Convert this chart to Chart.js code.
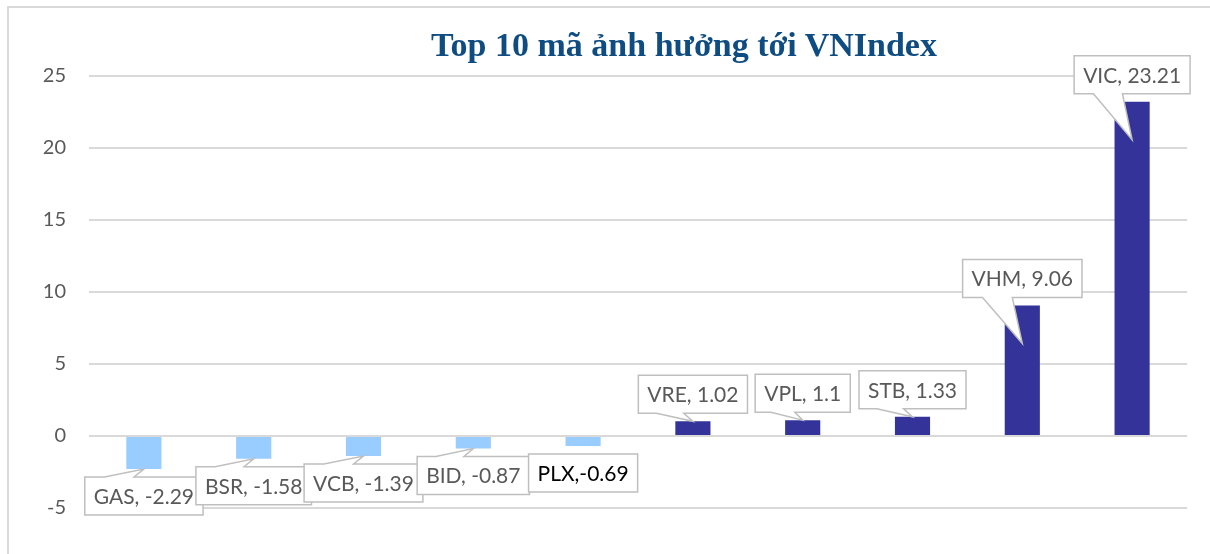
<!DOCTYPE html>
<html lang="vi">
<head>
<meta charset="utf-8">
<title>Top 10 mã ảnh hưởng tới VNIndex</title>
<script src="https://cdn.jsdelivr.net/npm/chart.js@4.4.1/dist/chart.umd.min.js"></script>
<style>
    html, body { margin: 0; padding: 0; background: #fff; overflow: hidden; }
    .frame {
        position: absolute; left: 7px; top: 6px;
        width: 1354px; height: 600px;
        border: 2px solid #d9d9d9; box-sizing: border-box;
    }
    .frame canvas { display: block; }
    .title {
        position: absolute; left: 0; right: 0; top: 17px;
        margin: 0; text-align: center;
        font: bold 34px/40px "Liberation Serif", serif;
        color: #0F4C81;
    }
</style>
</head>
<body>
<div class="frame">
    <h1 class="title">Top 10 mã ảnh hưởng tới VNIndex</h1>
    <canvas id="chart" width="1350" height="596"></canvas>
</div>
<script>
// Dữ liệu
const categories = ['GAS', 'BSR', 'VCB', 'BID', 'PLX', 'VRE', 'VPL', 'STB', 'VHM', 'VIC'];
const values = [-2.29, -1.58, -1.39, -0.87, -0.69, 1.02, 1.1, 1.33, 9.06, 23.21];
const yTicks = [-5, 0, 5, 10, 15, 20, 25];
// label drawn as a plain box (no pointer, black text)
const plainLabels = ['PLX'];

const POS_COLOR = '#333399';
const NEG_COLOR = '#99CCFF';

// Callout labels like Excel's "wedgeRectCallout"
const calloutPlugin = {
    id: 'callouts',
    afterDatasetsDraw(chart, args, opts) {
        const ctx = chart.ctx;
        const meta = chart.getDatasetMeta(0);
        ctx.save();
        ctx.font = opts.font;
        ctx.textAlign = 'center';
        ctx.textBaseline = 'middle';
        meta.data.forEach((bar, i) => {
            const value = values[i];
            const name = categories[i];
            const plain = plainLabels.includes(name);
            const text = plain ? `${name},${value}` : `${name}, ${value}`;
            const w = ctx.measureText(text).width + opts.padX * 2;
            const h = opts.boxHeight;
            const dir = value >= 0 ? -1 : 1;
            const cx = bar.x;
            const cy = bar.y + dir * opts.gap;
            const left = cx - w / 2, top = cy - h / 2;
            const right = left + w, bottom = top + h;
            const tipX = bar.x;
            const tipY = bar.y - dir * (opts.tipInset[name] || 0);
            const x1 = left + w * 2 / 12, x2 = left + w * 5 / 12;

            ctx.beginPath();
            if (plain) {
                ctx.rect(left, top, w, h);
            } else if (dir < 0) {
                // pointer below the box
                ctx.moveTo(left, top);
                ctx.lineTo(right, top);
                ctx.lineTo(right, bottom);
                ctx.lineTo(x2, bottom);
                ctx.lineTo(tipX, tipY);
                ctx.lineTo(x1, bottom);
                ctx.lineTo(left, bottom);
                ctx.closePath();
            } else {
                // pointer above the box
                ctx.moveTo(left, top);
                ctx.lineTo(x1, top);
                ctx.lineTo(tipX, tipY);
                ctx.lineTo(x2, top);
                ctx.lineTo(right, top);
                ctx.lineTo(right, bottom);
                ctx.lineTo(left, bottom);
                ctx.closePath();
            }
            ctx.fillStyle = '#ffffff';
            ctx.fill();
            ctx.strokeStyle = '#bfbfbf';
            ctx.lineWidth = 1.5;
            ctx.stroke();
            ctx.fillStyle = plain ? '#000000' : '#595959';
            ctx.fillText(text, cx, cy + 1);
        });
        ctx.restore();
    }
};

new Chart(document.getElementById('chart'), {
    type: 'bar',
    data: {
        labels: categories,
        datasets: [{
            data: values,
            backgroundColor: values.map(v => v >= 0 ? POS_COLOR : NEG_COLOR),
            borderWidth: 0,
            barPercentage: 1,
            categoryPercentage: 0.32
        }]
    },
    options: {
        responsive: false,
        animation: false,
        layout: { padding: { left: 0, right: 172, top: 68, bottom: 96 } },
        plugins: {
            legend: { display: false },
            tooltip: { enabled: false },
            title: { display: false },
            callouts: {
                font: '21px Lato, sans-serif',
                padX: 9,
                boxHeight: 38,
                gap: 27,
                tipInset: { VHM: 38, VIC: 38 }
            }
        },
        scales: {
            x: { display: false },
            y: {
                min: yTicks[0],
                max: yTicks[yTicks.length - 1],
                afterFit: scale => { scale.width = 80; },
                afterBuildTicks: scale => { scale.ticks = yTicks.map(v => ({ value: v })); },
                border: { display: false },
                grid: { color: '#d9d9d9', lineWidth: 2, drawTicks: false },
                ticks: {
                    padding: 23,
                    color: '#595959',
                    font: { family: 'Lato, sans-serif', size: 20 }
                }
            }
        }
    },
    plugins: [calloutPlugin]
});
</script>
</body>
</html>
